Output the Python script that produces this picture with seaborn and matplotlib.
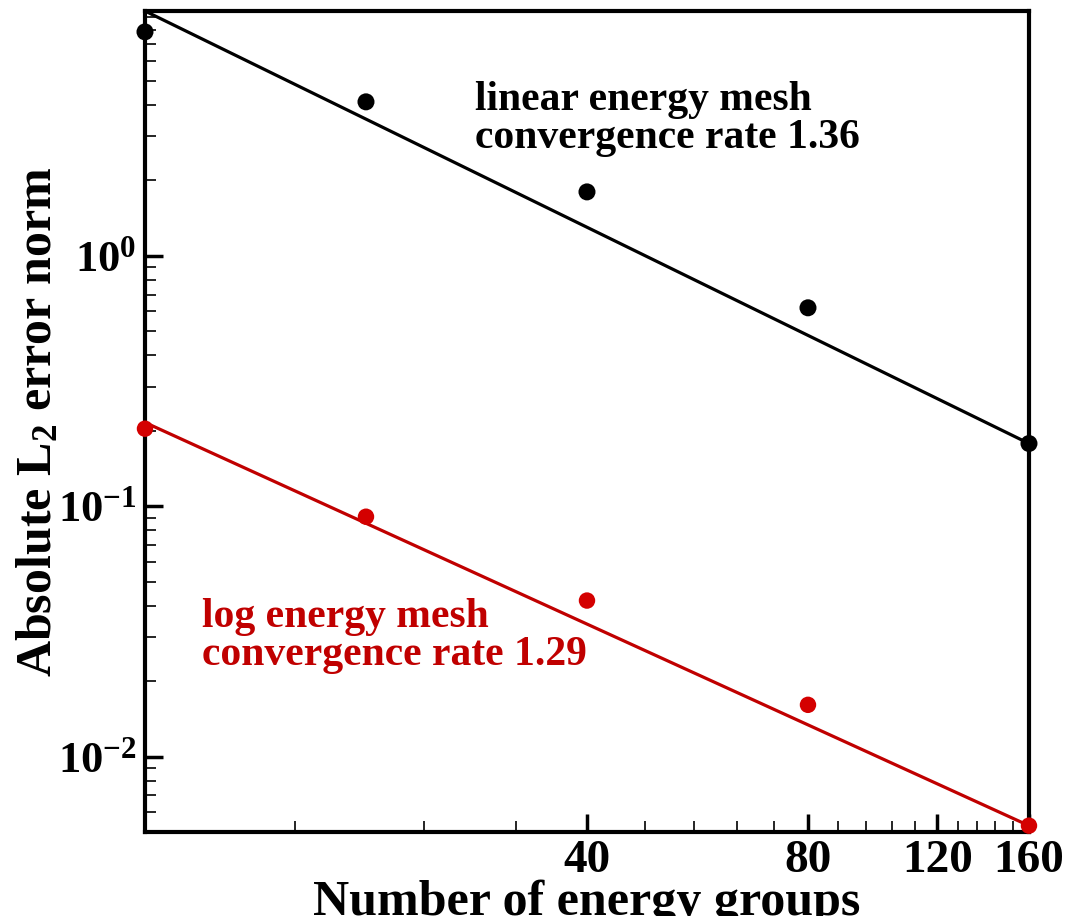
import numpy as np
import pandas as pd
import matplotlib
matplotlib.use("Agg")
import matplotlib.pyplot as plt
from matplotlib.ticker import FixedLocator, FuncFormatter, LogLocator, NullFormatter
import seaborn as sns

sns.set_style("ticks")
plt.rcParams["font.family"] = ["Liberation Serif", "DejaVu Serif"]
plt.rcParams["font.weight"] = "bold"
plt.rcParams["mathtext.fontset"] = "custom"
plt.rcParams["mathtext.rm"] = "Liberation Serif:bold"
plt.rcParams["mathtext.bf"] = "Liberation Serif:bold"
plt.rcParams["mathtext.it"] = "Liberation Serif:bold"
plt.rcParams["mathtext.default"] = "rm"
for key in ["text.color", "axes.labelcolor", "xtick.color", "ytick.color", "axes.edgecolor"]:
    plt.rcParams[key] = "black"

# ---------------- DATA ---------------- #
groups = [10, 20, 40, 80, 160]
linear_err = [7.84, 4.12, 1.80, 0.62, 0.178]
log_err = [0.204, 0.0908, 0.042, 0.0161, 0.0053]

# fitted convergence lines (end points)
fit_groups = [10, 160]
linear_fit = [9.5, 0.178]
log_fit = [0.216, 0.0053]

x_major = [40, 80, 120, 160]
x_minor = [16, 24, 32, 48, 56, 64, 72, 88, 96, 104, 112, 128, 136, 144, 152]

BLACK = "#000000"
RED_LINE = "#c00000"
RED_DOT = "#d40000"

pts = pd.DataFrame({"groups": groups, "linear": linear_err, "log": log_err})
fits = pd.DataFrame({"groups": fit_groups, "linear": linear_fit, "log": log_fit})

# ---------------- PLOT ---------------- #
fig, ax = plt.subplots(figsize=(10.82, 9.16), dpi=100)
fig.subplots_adjust(left=0.134, right=0.951, bottom=0.0917, top=0.988)

sns.lineplot(data=fits, x="groups", y="linear", color=BLACK, lw=2.3, ax=ax)
sns.lineplot(data=fits, x="groups", y="log", color=RED_LINE, lw=2.3, ax=ax)
sns.scatterplot(data=pts, x="groups", y="linear", color=BLACK, s=150,
                edgecolor="none", ax=ax, clip_on=False, zorder=5)
sns.scatterplot(data=pts, x="groups", y="log", color=RED_DOT, s=140,
                edgecolor="none", ax=ax, clip_on=False, zorder=5)

ax.set_xscale("log")
ax.set_yscale("log")
ax.set_xlim(10, 160)
ax.set_ylim(0.005, 9.5)

ax.xaxis.set_major_locator(FixedLocator(x_major))
ax.xaxis.set_minor_locator(FixedLocator(x_minor))
ax.xaxis.set_major_formatter(FuncFormatter(lambda v, _: f"{v:g}"))
ax.xaxis.set_minor_formatter(NullFormatter())

ax.yaxis.set_major_locator(LogLocator(base=10, numticks=10))
ax.yaxis.set_minor_locator(LogLocator(base=10, subs=np.arange(2, 10), numticks=20))
ax.yaxis.set_major_formatter(FuncFormatter(
    lambda v, _: r"$10^{%d}$" % int(round(np.log10(v)))))
ax.yaxis.set_minor_formatter(NullFormatter())

ax.tick_params(which="both", direction="in", top=False, right=False, pad=6)
ax.tick_params(axis="x", labelsize=34)
ax.tick_params(axis="y", labelsize=32)
ax.tick_params(which="major", length=13, width=2.5)
ax.tick_params(which="minor", length=8, width=1.2)

for s in ax.spines.values():
    s.set_linewidth(3)
    s.set_color(BLACK)

ax.set_xlabel("Number of energy groups", fontsize=36, fontweight="bold", labelpad=-2)
ax.set_ylabel(r"Absolute L$_2$ error norm", fontsize=36, fontweight="bold", labelpad=-3)

ax.text(0.373, 0.915, "linear energy mesh\nconvergence rate 1.36",
        transform=ax.transAxes, fontsize=30, fontweight="bold", color=BLACK,
        va="top", ha="left", linespacing=1.0)
ax.text(0.065, 0.285, "log energy mesh\nconvergence rate 1.29",
        transform=ax.transAxes, fontsize=30, fontweight="bold", color=RED_LINE,
        va="top", ha="left", linespacing=1.0)

fig.savefig("out.png", dpi=100)
